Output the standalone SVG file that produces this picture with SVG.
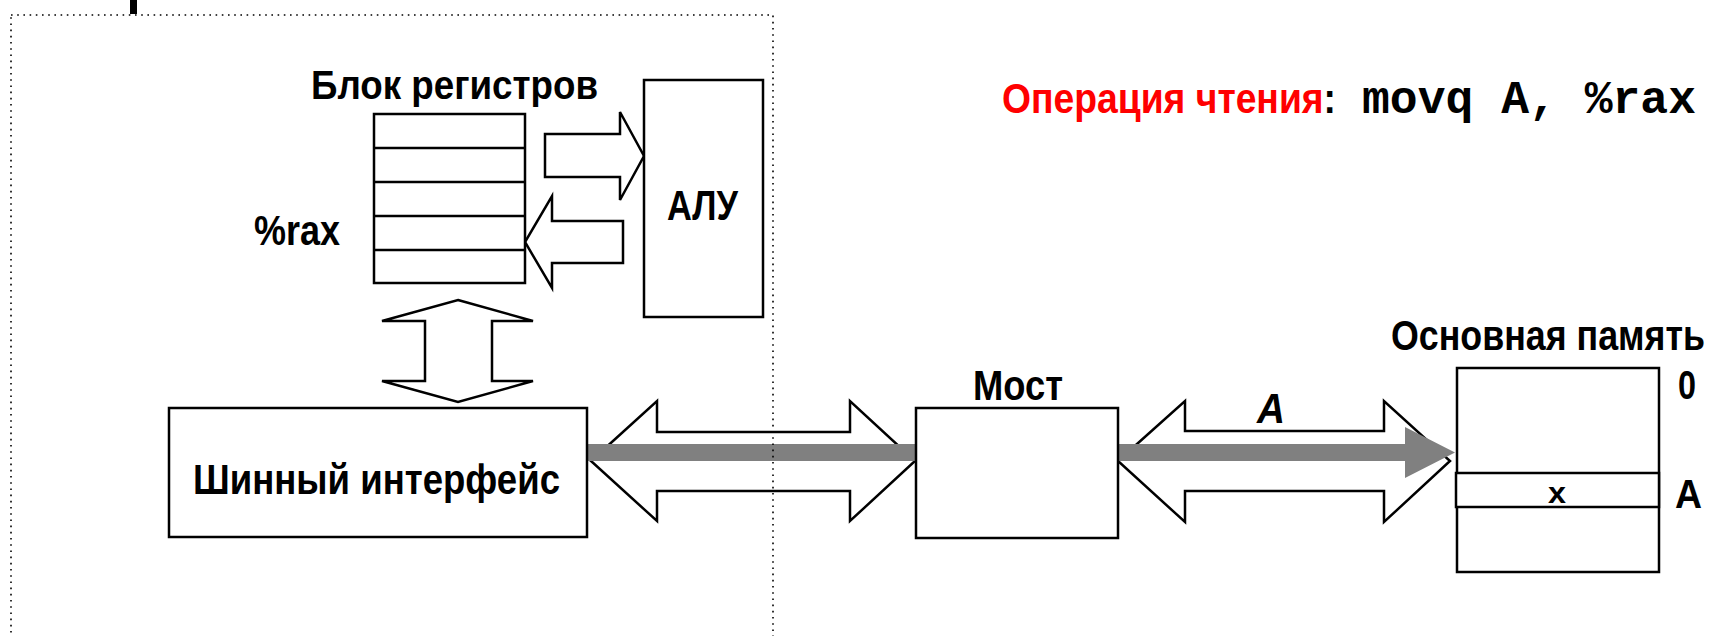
<svg xmlns="http://www.w3.org/2000/svg" width="1714" height="636" viewBox="0 0 1714 636">
  <style>
    .box { fill: #fff; stroke: #000; stroke-width: 2.5; }
    .line { stroke: #000; stroke-width: 2.5; fill: none; }
    .barrow { fill: #fff; stroke: #000; stroke-width: 2.5; stroke-linejoin: miter; }
    .lbl { font-family: "Liberation Sans", Arial, Helvetica, sans-serif; font-weight: bold; fill: #000; }
    .mono { font-family: "Liberation Mono", "Courier New", monospace; font-weight: bold; fill: #000; }
    .dotted { fill: none; stroke: #000; stroke-width: 1.6; stroke-dasharray: 1.6 4.6; }
  </style>
  <rect x="0" y="0" width="1714" height="636" fill="#fff"/>

  <!-- cut-off fragment at top -->
  <rect x="130" y="0" width="7" height="14" fill="#000"/>

  <g id="connectors">
    <!-- register -> ALU -->
    <polygon class="barrow" points="545,134 620,134 620,112 644,156 620,200 620,177 545,177"/>
    <!-- ALU -> register -->
    <polygon class="barrow" points="623,221 552,221 552,196 525,242 552,288 552,263 623,263"/>
    <!-- register <-> bus interface -->
    <polygon class="barrow" points="458,300 533,321 492,321 492,381 533,381 458,402 382,381 425,381 425,321 382,321"/>
    <!-- bus interface <-> bridge -->
    <polygon class="barrow" points="591,461 657,401 657,432 850,432 850,401 915,461 850,521 850,491 657,491 657,521"/>
    <!-- bridge <-> memory -->
    <polygon class="barrow" points="1118,461 1185,401 1185,431 1384,431 1384,401 1450,461 1384,522 1384,491 1185,491 1185,522"/>
    <!-- gray data flow arrow -->
    <polygon fill="#808080" points="587,444 1405,444 1405,427 1455,452.5 1405,478 1405,461 587,461"/>
    <text class="lbl" x="1271" y="423" font-size="43" font-style="italic" text-anchor="middle" textLength="28" lengthAdjust="spacingAndGlyphs">A</text>
  </g>

  <g id="regfile">
    <text class="lbl" x="311" y="99" font-size="40" textLength="287" lengthAdjust="spacingAndGlyphs">Блок регистров</text>
    <rect class="box" x="374" y="114" width="151" height="169"/>
    <line class="line" x1="374" y1="148" x2="525" y2="148"/>
    <line class="line" x1="374" y1="182" x2="525" y2="182"/>
    <line class="line" x1="374" y1="216" x2="525" y2="216"/>
    <line class="line" x1="374" y1="250" x2="525" y2="250"/>
    <text class="lbl" x="254" y="245" font-size="43" textLength="86" lengthAdjust="spacingAndGlyphs">%rax</text>
  </g>

  <g id="alu">
    <rect class="box" x="644" y="80" width="119" height="237"/>
    <text class="lbl" x="667" y="220" font-size="42" textLength="71" lengthAdjust="spacingAndGlyphs">АЛУ</text>
  </g>

  <g id="businterface">
    <rect class="box" x="169" y="408" width="418" height="129"/>
    <text class="lbl" x="193" y="494" font-size="42" textLength="367" lengthAdjust="spacingAndGlyphs">Шинный интерфейс</text>
  </g>

  <g id="bridge">
    <rect class="box" x="916" y="408" width="202" height="130"/>
    <text class="lbl" x="973" y="400" font-size="42" textLength="90" lengthAdjust="spacingAndGlyphs">Мост</text>
  </g>

  <g id="memory">
    <text class="lbl" x="1391" y="350" font-size="43" textLength="314" lengthAdjust="spacingAndGlyphs">Основная память</text>
    <rect class="box" x="1457" y="368" width="202" height="204"/>
    <rect class="box" x="1456" y="473" width="203" height="34"/>
    <text class="lbl" x="1557" y="503" font-size="30" text-anchor="middle" textLength="18" lengthAdjust="spacingAndGlyphs">x</text>
    <text class="lbl" x="1678" y="399" font-size="40" textLength="18" lengthAdjust="spacingAndGlyphs">0</text>
    <text class="lbl" x="1675" y="508" font-size="40" textLength="27" lengthAdjust="spacingAndGlyphs">A</text>
  </g>

  <g id="title">
    <text class="lbl" x="1002" y="113" font-size="43" textLength="334" lengthAdjust="spacingAndGlyphs"><tspan fill="#ff0000" style="fill:#ff0000">Операция чтения</tspan>:</text>
    <text class="mono" x="1362" y="113" font-size="46" textLength="334" lengthAdjust="spacingAndGlyphs">movq A, %rax</text>
  </g>

  <!-- CPU boundary (dotted) -->
  <rect class="dotted" x="11" y="15" width="762" height="700"/>
</svg>
